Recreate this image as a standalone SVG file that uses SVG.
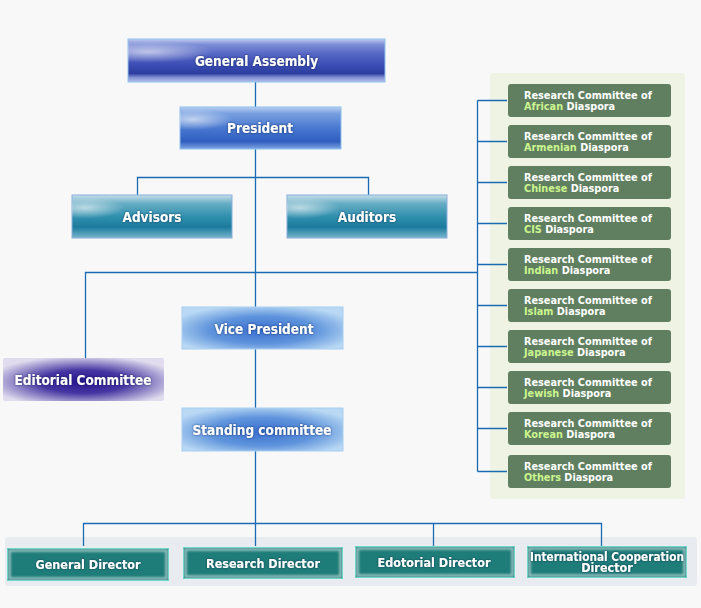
<svg xmlns="http://www.w3.org/2000/svg" width="701" height="608" viewBox="0 0 701 608">
<style>
.bg{fill:#f8f8f8}
.conn{fill:none;stroke:#1a6bb2;stroke-width:1.3}
.t{font-family:"DejaVu Sans Condensed","DejaVu Sans",sans-serif;font-weight:bold;fill:#fff;text-anchor:middle}
.main{font-size:13.5px;filter:url(#ts)}
.dir{font-size:12.5px;filter:url(#ts)}
.rc rect{fill:#607f60}
.rc text{font-family:"DejaVu Sans Condensed","DejaVu Sans",sans-serif;font-weight:bold;font-size:10.8px;fill:#fff}
.hl{fill:#ccf58f}
.db{fill:#1f7d79;stroke:#58d0bf;stroke-width:1}
.dbi{fill:none;stroke:#ffffff;stroke-opacity:0.55;stroke-width:2.5;filter:url(#bl)}
</style>
<defs>
<filter id="ts" x="-10%" y="-40%" width="120%" height="180%">
<feDropShadow dx="0" dy="0" stdDeviation="1.2" flood-color="#0a1a40" flood-opacity="0.7"/>
</filter>
<filter id="bl"><feGaussianBlur stdDeviation="1"/></filter>
<linearGradient id="gaG" x1="0" y1="0" x2="0" y2="1">
<stop offset="0" stop-color="#c2ccf0"/><stop offset="0.12" stop-color="#7f90d8"/><stop offset="0.35" stop-color="#5566c4"/><stop offset="0.6" stop-color="#3c4eb4"/><stop offset="0.8" stop-color="#2c3da0"/><stop offset="0.9" stop-color="#8594d4"/><stop offset="1" stop-color="#b4c0ea"/>
</linearGradient>
<linearGradient id="prG" x1="0" y1="0" x2="0" y2="1">
<stop offset="0" stop-color="#b8d0f2"/><stop offset="0.15" stop-color="#79a0e0"/><stop offset="0.5" stop-color="#4878d0"/><stop offset="0.82" stop-color="#2f5ebf"/><stop offset="1" stop-color="#7fa5e2"/>
</linearGradient>
<linearGradient id="adG" x1="0" y1="0" x2="0" y2="1">
<stop offset="0" stop-color="#c6e0ea"/><stop offset="0.2" stop-color="#66acc4"/><stop offset="0.5" stop-color="#3090ae"/><stop offset="0.75" stop-color="#1c7b9d"/><stop offset="1" stop-color="#78b6cc"/>
</linearGradient>
<radialGradient id="hlG" cx="0.08" cy="0.3" r="0.25">
<stop offset="0" stop-color="#ffffff" stop-opacity="0.6"/><stop offset="1" stop-color="#ffffff" stop-opacity="0"/>
</radialGradient>
<radialGradient id="vpG" cx="0.5" cy="0.55" r="0.6">
<stop offset="0" stop-color="#3a6fd0"/><stop offset="0.55" stop-color="#5f94dc"/><stop offset="1" stop-color="#b8d8f4"/>
</radialGradient>
<radialGradient id="edG" cx="0.5" cy="0.55" r="0.6">
<stop offset="0" stop-color="#261690"/><stop offset="0.45" stop-color="#4636a2"/><stop offset="1" stop-color="#e0dcee"/>
</radialGradient>
</defs>
<rect class="bg" x="0" y="0" width="701" height="608"/>
<rect x="490" y="73" width="195" height="426" rx="3" fill="#eef3e3"/>
<rect x="5" y="537" width="692" height="49" rx="3" fill="#e8ecf0"/>

<g id="connectors">
<path class="conn" d="M255.5 82 V546"/>
<path class="conn" d="M137.5 195 V177.5 H368.5 V195"/>
<path class="conn" d="M85.5 358 V272.5 H477.5"/>
<path class="conn" d="M477.5 100.5 V471.5"/>
<path class="conn" d="M477.5 100.5 H507 M477.5 141.5 H507 M477.5 182.5 H507 M477.5 223.5 H507 M477.5 264.5 H507 M477.5 305.5 H507 M477.5 346.5 H507 M477.5 387.5 H507 M477.5 428.5 H507 M477.5 471.5 H507"/>
<path class="conn" d="M83.5 546 V523.5 H601.5 V546 M433.5 523.5 V546"/>
</g>

<g id="general-assembly">
<rect x="128" y="39" width="257" height="43" fill="url(#gaG)" stroke="#8ec0ec" stroke-width="1"/>
<rect x="128" y="39" width="257" height="43" fill="url(#hlG)"/>
<text class="t main" x="256.5" y="66">General Assembly</text>
</g>
<g id="president">
<rect x="180" y="107" width="161" height="42" fill="url(#prG)" stroke="#8ec0ec" stroke-width="1"/>
<rect x="180" y="107" width="161" height="42" fill="url(#hlG)"/>
<text class="t main" x="260" y="133">President</text>
</g>
<g id="advisors">
<rect x="72" y="195" width="160" height="43" fill="url(#adG)" stroke="#8aaedc" stroke-width="1"/>
<rect x="72" y="195" width="160" height="43" fill="url(#hlG)"/>
<text class="t main" x="152" y="222">Advisors</text>
</g>
<g id="auditors">
<rect x="287" y="195" width="160" height="43" fill="url(#adG)" stroke="#8aaedc" stroke-width="1"/>
<rect x="287" y="195" width="160" height="43" fill="url(#hlG)"/>
<text class="t main" x="367" y="222">Auditors</text>
</g>
<g id="vice-president">
<rect x="182" y="307" width="161" height="42" fill="url(#vpG)" stroke="#a6cdf2" stroke-width="1"/>
<text class="t main" x="264" y="334">Vice President</text>
</g>
<g id="editorial-committee">
<rect x="3" y="358" width="161" height="43" rx="2" fill="url(#edG)"/>
<text class="t main" x="83" y="385">Editorial Committee</text>
</g>
<g id="standing-committee">
<rect x="182" y="408" width="161" height="43" fill="url(#vpG)" stroke="#a6cdf2" stroke-width="1"/>
<text class="t main" x="262" y="435">Standing committee</text>
</g>

<g id="rc-african" class="rc"><rect x="508" y="84" width="163" height="33" rx="3"/><text x="524" y="98.5">Research Committee of<tspan x="524" dy="11"><tspan class="hl">African</tspan> Diaspora</tspan></text></g>
<g id="rc-armenian" class="rc"><rect x="508" y="125" width="163" height="33" rx="3"/><text x="524" y="139.5">Research Committee of<tspan x="524" dy="11"><tspan class="hl">Armenian</tspan> Diaspora</tspan></text></g>
<g id="rc-chinese" class="rc"><rect x="508" y="166" width="163" height="33" rx="3"/><text x="524" y="180.5">Research Committee of<tspan x="524" dy="11"><tspan class="hl">Chinese</tspan> Diaspora</tspan></text></g>
<g id="rc-cis" class="rc"><rect x="508" y="207" width="163" height="33" rx="3"/><text x="524" y="221.5">Research Committee of<tspan x="524" dy="11"><tspan class="hl">CIS</tspan> Diaspora</tspan></text></g>
<g id="rc-indian" class="rc"><rect x="508" y="248" width="163" height="33" rx="3"/><text x="524" y="262.5">Research Committee of<tspan x="524" dy="11"><tspan class="hl">Indian</tspan> Diaspora</tspan></text></g>
<g id="rc-islam" class="rc"><rect x="508" y="289" width="163" height="33" rx="3"/><text x="524" y="303.5">Research Committee of<tspan x="524" dy="11"><tspan class="hl">Islam</tspan> Diaspora</tspan></text></g>
<g id="rc-japanese" class="rc"><rect x="508" y="330" width="163" height="33" rx="3"/><text x="524" y="344.5">Research Committee of<tspan x="524" dy="11"><tspan class="hl">Japanese</tspan> Diaspora</tspan></text></g>
<g id="rc-jewish" class="rc"><rect x="508" y="371" width="163" height="33" rx="3"/><text x="524" y="385.5">Research Committee of<tspan x="524" dy="11"><tspan class="hl">Jewish</tspan> Diaspora</tspan></text></g>
<g id="rc-korean" class="rc"><rect x="508" y="412" width="163" height="33" rx="3"/><text x="524" y="426.5">Research Committee of<tspan x="524" dy="11"><tspan class="hl">Korean</tspan> Diaspora</tspan></text></g>
<g id="rc-others" class="rc"><rect x="508" y="455" width="163" height="33" rx="3"/><text x="524" y="469.5">Research Committee of<tspan x="524" dy="11"><tspan class="hl">Others</tspan> Diaspora</tspan></text></g>

<g id="general-director">
<rect class="db" x="7.5" y="548.5" width="161" height="32"/>
<rect class="dbi" x="9.5" y="550.5" width="157" height="28"/>
<text class="t dir" x="88" y="569">General Director</text>
</g>
<g id="research-director">
<rect class="db" x="183.5" y="547.5" width="159" height="31"/>
<rect class="dbi" x="185.5" y="549.5" width="155" height="27"/>
<text class="t dir" x="263" y="568">Research Director</text>
</g>
<g id="edotorial-director">
<rect class="db" x="355.5" y="546.5" width="159" height="31"/>
<rect class="dbi" x="357.5" y="548.5" width="155" height="27"/>
<text class="t dir" x="434" y="567">Edotorial Director</text>
</g>
<g id="international-cooperation-director">
<rect class="db" x="527.5" y="546.5" width="159" height="31"/>
<rect class="dbi" x="529.5" y="548.5" width="155" height="27"/>
<text class="t dir" x="607" y="561"><tspan x="607" textLength="154" lengthAdjust="spacingAndGlyphs">International Cooperation</tspan><tspan x="607" dy="11">Director</tspan></text>
</g>
</svg>
